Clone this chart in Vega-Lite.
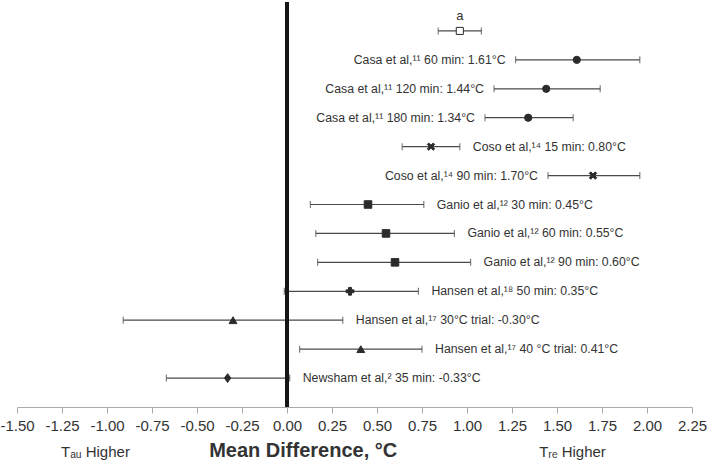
{
  "$schema": "https://vega.github.io/schema/vega-lite/v6.json",
  "width": 675,
  "height": 405,
  "autosize": {"type": "none"},
  "padding": {"left": 17, "top": 2, "right": 17, "bottom": 55},
  "config": {"view": {"stroke": null}, "font": "Liberation Sans"},
  "datasets": {
    "studies": [
      {"label": "a", "study": "a", "md": 0.96, "lo": 0.84, "hi": 1.08},
      {"label": "Casa et al,¹¹ 60 min: 1.61°C", "study": "Casa et al", "md": 1.61, "lo": 1.27, "hi": 1.96},
      {"label": "Casa et al,¹¹ 120 min: 1.44°C", "study": "Casa et al", "md": 1.44, "lo": 1.15, "hi": 1.74},
      {"label": "Casa et al,¹¹ 180 min: 1.34°C", "study": "Casa et al", "md": 1.34, "lo": 1.1, "hi": 1.59},
      {"label": "Coso et al,¹⁴ 15 min: 0.80°C", "study": "Coso et al", "md": 0.8, "lo": 0.64, "hi": 0.96},
      {"label": "Coso et al,¹⁴ 90 min: 1.70°C", "study": "Coso et al", "md": 1.7, "lo": 1.45, "hi": 1.96},
      {"label": "Ganio et al,¹² 30 min: 0.45°C", "study": "Ganio et al", "md": 0.45, "lo": 0.13, "hi": 0.76},
      {"label": "Ganio et al,¹² 60 min: 0.55°C", "study": "Ganio et al", "md": 0.55, "lo": 0.16, "hi": 0.93},
      {"label": "Ganio et al,¹² 90 min: 0.60°C", "study": "Ganio et al", "md": 0.6, "lo": 0.17, "hi": 1.02},
      {"label": "Hansen et al,¹⁸ 50 min: 0.35°C", "study": "Hansen et al 18", "md": 0.35, "lo": -0.015, "hi": 0.73},
      {"label": "Hansen et al,¹⁷ 30°C trial: -0.30°C", "study": "Hansen et al 17", "md": -0.3, "lo": -0.91, "hi": 0.31},
      {"label": "Hansen et al,¹⁷ 40 °C trial: 0.41°C", "study": "Hansen et al 17", "md": 0.41, "lo": 0.07, "hi": 0.75},
      {"label": "Newsham et al,² 35 min: -0.33°C", "study": "Newsham et al", "md": -0.33, "lo": -0.67, "hi": 0.015}
    ],
    "notes": [
      {"text": "Tₐᵤ Higher", "x": -1.064},
      {"text": "Tᵣₑ Higher", "x": 1.586}
    ]
  },
  "resolve": {"scale": {"y": "independent"}},
  "layer": [
    {
      "data": {"name": "studies"},
      "layer": [
        {
          "mark": {"type": "rule", "color": "#4a4a4a", "strokeWidth": 1.2},
          "encoding": {
            "x": {"field": "lo", "type": "quantitative", "scale": {"domain": [-1.5, 2.25], "nice": false, "zero": false},
              "axis": {"values": [-1.5, -1.25, -1, -0.75, -0.5, -0.25, 0, 0.25, 0.5, 0.75, 1, 1.25, 1.5, 1.75, 2, 2.25],
                "labelExpr": "replace(format(datum.value, '.2f'), '−', '-')",
                "grid": false, "title": null, "domainColor": "#aaaaaa", "tickColor": "#aaaaaa", "tickSize": 6,
                "labelFontSize": 15, "labelColor": "#333333", "labelPadding": 5, "labelFlush": false, "labelOverlap": false}},
            "x2": {"field": "hi"},
            "y": {"field": "label", "type": "nominal", "sort": null, "scale": {"type": "point", "padding": 1}, "axis": null}
          }
        },
        {
          "mark": {"type": "tick", "color": "#4a4a4a", "thickness": 1.2, "size": 7},
          "encoding": {
            "x": {"field": "lo", "type": "quantitative"},
            "y": {"field": "label", "type": "nominal", "sort": null}
          }
        },
        {
          "mark": {"type": "tick", "color": "#4a4a4a", "thickness": 1.2, "size": 7},
          "encoding": {
            "x": {"field": "hi", "type": "quantitative"},
            "y": {"field": "label", "type": "nominal", "sort": null}
          }
        },
        {
          "mark": {"type": "rule", "color": "#161616", "strokeWidth": 3.5},
          "encoding": {"x": {"datum": 0, "type": "quantitative"}}
        },
        {
          "mark": {"type": "point", "filled": true, "stroke": "#2b2b2b", "strokeWidth": 1, "opacity": 1},
          "encoding": {
            "x": {"field": "md", "type": "quantitative"},
            "y": {"field": "label", "type": "nominal", "sort": null},
            "shape": {"field": "study", "type": "nominal", "legend": null,
              "scale": {"domain": ["a", "Casa et al", "Coso et al", "Ganio et al", "Hansen et al 18", "Hansen et al 17", "Newsham et al"],
                "range": ["square", "circle", "M-1,-0.6L-0.6,-1L0,-0.4L0.6,-1L1,-0.6L0.4,0L1,0.6L0.6,1L0,0.4L-0.6,1L-1,0.6L-0.4,0Z", "square", "M-0.38,-1L0.38,-1L0.38,-0.38L1,-0.38L1,0.38L0.38,0.38L0.38,1L-0.38,1L-0.38,0.38L-1,0.38L-1,-0.38L-0.38,-0.38Z", "triangle-up", "M0,-1.1L0.8,0L0,1.1L-0.8,0Z"]}},
            "size": {"field": "study", "type": "nominal", "legend": null,
              "scale": {"domain": ["a", "Casa et al", "Coso et al", "Ganio et al", "Hansen et al 18", "Hansen et al 17", "Newsham et al"],
                "range": [50, 64, 120, 64, 130, 80, 64]}},
            "fill": {"condition": {"test": "datum.study === 'a'", "value": "#ffffff"}, "value": "#2b2b2b"}
          }
        },
        {
          "mark": {"type": "text", "align": "left", "baseline": "middle", "dx": 13, "fontSize": 12.3, "color": "#333333"},
          "encoding": {
            "x": {"field": "hi", "type": "quantitative"},
            "y": {"field": "label", "type": "nominal", "sort": null},
            "text": {"condition": {"test": "datum.study !== 'a' && datum.study !== 'Casa et al' && !(datum.study === 'Coso et al' && datum.md > 1)", "field": "label"}, "value": ""}
          }
        },
        {
          "mark": {"type": "text", "align": "right", "baseline": "middle", "dx": -10, "fontSize": 12.3, "color": "#333333"},
          "encoding": {
            "x": {"field": "lo", "type": "quantitative"},
            "y": {"field": "label", "type": "nominal", "sort": null},
            "text": {"condition": {"test": "datum.study === 'Casa et al' || (datum.study === 'Coso et al' && datum.md > 1)", "field": "label"}, "value": ""}
          }
        },
        {
          "mark": {"type": "text", "align": "center", "baseline": "middle", "dy": -15, "fontSize": 13, "color": "#333333"},
          "encoding": {
            "x": {"field": "md", "type": "quantitative"},
            "y": {"field": "label", "type": "nominal", "sort": null},
            "text": {"condition": {"test": "datum.study === 'a'", "field": "label"}, "value": ""}
          }
        }
      ]
    },
    {
      "layer": [
        {
          "data": {"name": "notes"},
          "mark": {"type": "text", "align": "center", "baseline": "middle", "color": "#333333", "fontSize": 15},
          "encoding": {
            "x": {"field": "x", "type": "quantitative"},
            "y": {"datum": -0.11, "type": "quantitative", "scale": {"domain": [0, 1]}, "axis": null},
            "text": {"field": "text"}
          }
        },
        {
          "data": {"values": [{}]},
          "mark": {"type": "text", "align": "center", "baseline": "middle", "color": "#333333", "fontSize": 20, "fontWeight": "bold"},
          "encoding": {
            "x": {"datum": 0.09, "type": "quantitative"},
            "y": {"datum": -0.108, "type": "quantitative"},
            "text": {"value": "Mean Difference, °C"}
          }
        }
      ]
    }
  ]
}
